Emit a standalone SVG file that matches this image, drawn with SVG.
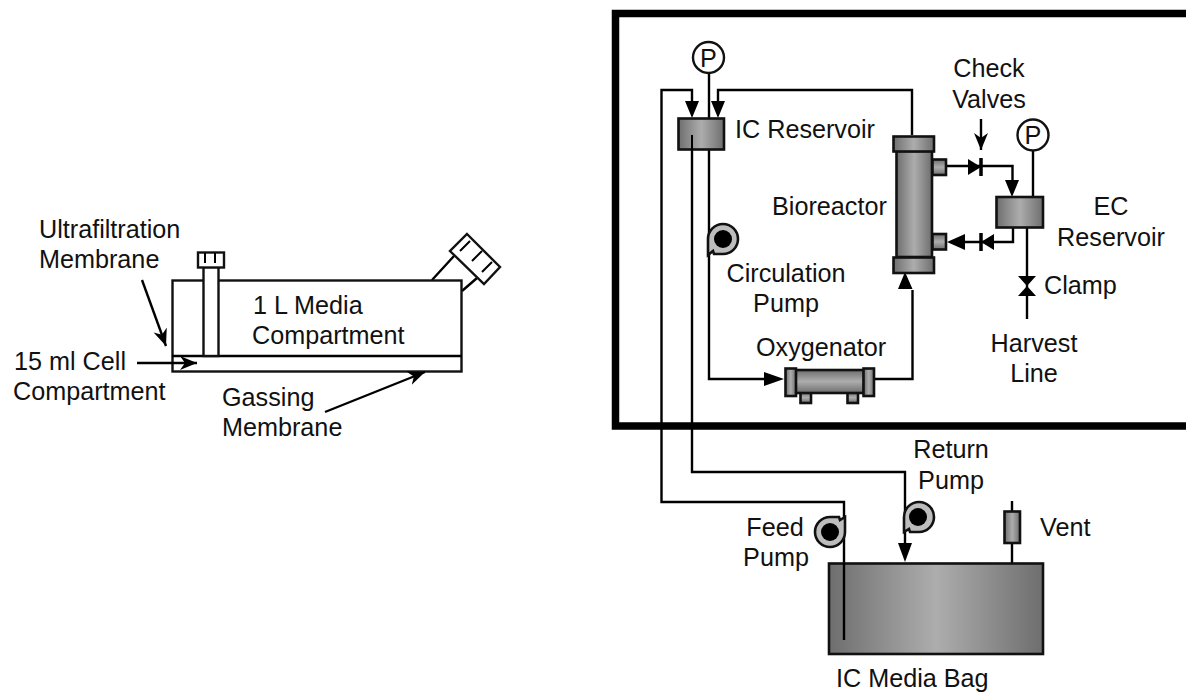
<svg xmlns="http://www.w3.org/2000/svg" width="1186" height="692" viewBox="0 0 1186 692">
<style>
text{font-family:"Liberation Sans",Arial,sans-serif;font-size:25.200px;fill:#111}
.m{text-anchor:middle}
.l{fill:none;stroke:#000;stroke-width:2.4}
.t{fill:none;stroke:#000;stroke-width:2}
.g{fill:url(#gr);stroke:#111;stroke-width:2.6}
.gv{fill:url(#grv);stroke:#111;stroke-width:2.6}
.w{fill:#fff;stroke:#111;stroke-width:2.4}
.pump{fill:#bdbdbd;stroke:#111;stroke-width:2.6}
.a{fill:#000}
</style>
<defs>
<linearGradient id="gr" x1="0" x2="1" y1="0" y2="0"><stop offset="0" stop-color="#6e6e6e"/><stop offset=".5" stop-color="#adadad"/><stop offset="1" stop-color="#6e6e6e"/></linearGradient>
<linearGradient id="grv" x1="0" x2="0" y1="0" y2="1"><stop offset="0" stop-color="#6e6e6e"/><stop offset=".5" stop-color="#adadad"/><stop offset="1" stop-color="#6e6e6e"/></linearGradient>
<marker id="open" markerUnits="userSpaceOnUse" markerWidth="20" markerHeight="16" refX="17" refY="7" orient="auto"><path d="M0 0L17 7L0 14L5 7Z" fill="#000"/></marker>
</defs>
<g id="frame"><path d="M1186 13.500H615.500V426H1186" fill="none" stroke="#000" stroke-width="7.500"/></g>
<g id="flask">
<path class="l" d="M432 280L454 256M462 291L477 278"/>
<rect class="w" x="172.500" y="280.500" width="289" height="91"/>
<path class="l" d="M172 356H462"/>
<rect class="w" x="203.500" y="267" width="15" height="89"/>
<rect class="w" x="198" y="252.500" width="26" height="15"/>
<path class="t" d="M205 253V263M215 253V263"/>
<path class="w" d="M467 234L500 267L484 284L450 251Z"/>
<path class="t" d="M460 251L470 241M472 261L482 251M482 272L492 262"/>
</g>
<g id="connectors">
<path class="l" d="M142 280L166 346" marker-end="url(#open)"/>
<path class="l" d="M137 363H197" marker-end="url(#open)"/>
<path class="l" d="M325 412L425 372" marker-end="url(#open)"/>
<path class="l" d="M844 640V502H661.500V90H692V102"/>
<path class="l" d="M692 135V472H905V545"/>
<path class="l" d="M709 73V118"/>
<path class="l" d="M912 135V90H718V102"/>
<path class="l" d="M709 149V379H766"/>
<path class="l" d="M874 379H912.500V290"/>
<path class="l" d="M946 166H1012.500V180"/>
<path class="l" d="M1013 227V242H964"/>
<path class="l" d="M1033 151V197"/>
<path class="l" d="M1027 227V319"/>
<path class="l" d="M1012 501V563"/>
<path class="l" d="M981 119L981 150" marker-end="url(#open)"/>
<path class="a" d="M685 101H699L692 118ZM711 101H725L718 118ZM905 272L912.500 289H898ZM1005 180H1019L1012 197ZM764 372L784 379L764 386ZM947 242L965 234V250Z"/>
<path class="a" d="M968 159L981 167L968 175ZM994 234L981 242L994 250ZM1018 276H1036L1027 286L1036 296H1018L1027 286Z"/>
<path d="M981 158V176M981 233V251" stroke="#000" stroke-width="3.500"/>
</g>
<g id="p1"><circle class="w" cx="708.500" cy="57.500" r="15.500"/><text class="m" x="708.500" y="67">P</text></g>
<g id="p2"><circle class="w" cx="1033" cy="135" r="15.500"/><text class="m" x="1033" y="144">P</text></g>
<g id="ic-reservoir"><rect class="g" x="678.500" y="118.500" width="45.500" height="31"/><path class="t" d="M692 135V150"/><text x="735" y="138">IC Reservoir</text></g>
<g id="bioreactor">
<rect class="g" x="896.500" y="151" width="35.500" height="106"/>
<rect class="g" x="893.500" y="136.500" width="40.500" height="15"/>
<rect class="g" x="893.500" y="257.500" width="40.500" height="15.500"/>
<rect class="gv" x="932.500" y="159.500" width="13.500" height="15.500"/>
<rect class="gv" x="932.500" y="234" width="13.500" height="15.500"/>
<text x="772" y="215">Bioreactor</text>
</g>
<g id="ec-reservoir"><rect class="g" x="996.500" y="197" width="46.500" height="30.500"/><text class="m" x="1111" y="215">EC</text><text class="m" x="1111" y="246">Reservoir</text></g>
<g id="oxygenator">
<rect class="gv" x="800.500" y="392" width="10.500" height="11"/><rect class="gv" x="847.500" y="392" width="10.500" height="11"/>
<rect class="gv" x="795" y="370" width="69" height="23"/>
<rect class="g" x="785.500" y="368.500" width="10.500" height="27.500"/><rect class="g" x="863.500" y="368.500" width="10.500" height="27.500"/>
<text x="756" y="356">Oxygenator</text>
</g>
<g id="circ-pump"><path class="pump" d="M708 255V239A15 15 0 1 1 723 254H714L713 251Z"/><circle cx="723" cy="239" r="9" fill="#000"/><text class="m" x="786" y="282">Circulation</text><text class="m" x="786" y="312">Pump</text></g>
<g id="feed-pump"><path class="pump" d="M845 517V532A15 15 0 1 1 830 517H839L840 520Z"/><circle cx="830" cy="532" r="9" fill="#000"/><text class="m" x="775" y="536">Feed</text><text class="m" x="776" y="566">Pump</text></g>
<g id="return-pump"><path class="pump" d="M904 532V517A15 15 0 1 1 919 532H910L909 529Z"/><circle cx="918" cy="517" r="9" fill="#000"/><text class="m" x="951" y="458">Return</text><text class="m" x="951" y="489">Pump</text></g>
<g id="vent"><rect class="g" x="1004.500" y="511.500" width="15.500" height="31.500"/><text x="1040" y="536">Vent</text></g>
<g id="bag"><rect class="g" x="829" y="563.500" width="214" height="90.500"/><path class="l" d="M844 563V640"/><path class="a" d="M898 543H912L905 562Z"/><text x="836" y="687">IC Media Bag</text></g>
<g id="labels">
<text x="39" y="238">Ultrafiltration</text><text x="39" y="268">Membrane</text>
<text x="14" y="370">15 ml Cell</text><text x="13" y="400">Compartment</text>
<text x="222" y="406">Gassing</text><text x="222" y="436">Membrane</text>
<text x="253" y="314">1 L Media</text><text x="252" y="344">Compartment</text>
<text class="m" x="989" y="77">Check</text><text class="m" x="989" y="108">Valves</text>
<text x="1044" y="294">Clamp</text>
<text class="m" x="1034" y="352">Harvest</text><text class="m" x="1034" y="382">Line</text>
</g>
</svg>
